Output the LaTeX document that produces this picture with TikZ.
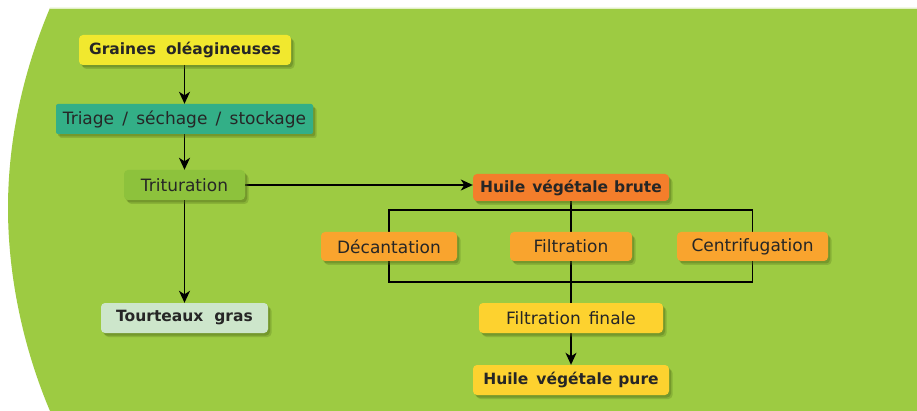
\documentclass[tikz,border=0pt]{standalone}
\usepackage{fontspec}
\setmainfont{DejaVu Sans}
\usetikzlibrary{arrows.meta,shadows,calc}
\definecolor{bggreen}{HTML}{9DCB42}
\definecolor{cyellow}{HTML}{F1E82E}
\definecolor{cteal}{HTML}{33AF87}
\definecolor{ctrit}{HTML}{8DC23C}
\definecolor{cpale}{HTML}{CDE6CB}
\definecolor{corangeD}{HTML}{F47E2B}
\definecolor{corange}{HTML}{F9A42E}
\definecolor{cyellowB}{HTML}{FDD22F}
\definecolor{ctext}{HTML}{262626}
\definecolor{cshadow}{HTML}{4E6A1A}
\pgfdeclarelayer{bglayer}
\pgfdeclarelayer{back}
\pgfsetlayers{bglayer,back,main}
\tikzset{
  box/.style={rounded corners=4pt, inner sep=0pt, text=ctext, align=center,
    font=\fontsize{17}{20}\selectfont,
    general shadow={shadow xshift=3.5pt, shadow yshift=-4pt, fill=cshadow, opacity=0.25},
    general shadow={shadow xshift=2pt, shadow yshift=-2.5pt, fill=cshadow, opacity=0.35}},
  boldbox/.style={box, font=\fontsize{15.5}{19}\selectfont\bfseries},
  conn/.style={line width=1.5pt, black},
  arr/.style={conn, -{Stealth[length=12pt,width=11pt,inset=3.5pt]}},
  brk/.style={line width=1.3pt, black}
}
\begin{document}
\begin{tikzpicture}[x=1pt,y=-1pt]
\useasboundingbox (0,0) rectangle (917,411);
\begin{pgfonlayer}{bglayer}
\fill[white] (0,0) rectangle (917,411);
\fill[bggreen] (917,8) -- (50,8) .. controls (23.3,71) and (8,139.5) .. (8,208)
  .. controls (8,276.5) and (23.3,348) .. (50,411) -- (917,411) -- cycle;
\draw[white!70!bggreen, line width=0.8pt] (50,8.2) -- (917,8.2);
\end{pgfonlayer}

\node[boldbox, fill=cyellow, minimum width=212pt, minimum height=30pt] (gr) at (185,50) {Graines\hspace{10pt}oléagineuses};
\node[box, fill=cteal, minimum width=257pt, minimum height=30pt, rounded corners=2pt] (tr) at (184.5,119) {Triage\ \,/\ \,séchage\ \,/\ \,stockage};
\node[box, fill=ctrit, minimum width=121pt, minimum height=30pt] (ti) at (184.5,185) {Trituration};
\node[boldbox, fill=cpale, minimum width=167pt, minimum height=30pt] (to) at (184.5,318) {Tourteaux\hspace{11pt}gras};
\node[boldbox, fill=corangeD, minimum width=196pt, minimum height=27pt] (hb) at (571,187.5) {Huile\hspace{7pt}végétale\hspace{6pt}brute};
\node[box, fill=corange, minimum width=136pt, minimum height=29pt] (de) at (389,246.5) {Décantation};
\node[box, fill=corange, minimum width=122pt, minimum height=29pt] (fi) at (571,246.5) {Filtration};
\node[box, fill=corange, minimum width=151pt, minimum height=29pt] (ce) at (752.5,246.5) {Centrifugation};
\node[box, fill=cyellowB, minimum width=184pt, minimum height=30pt] (ff) at (571,318) {Filtration\hspace{8pt}finale};
\node[boldbox, fill=cyellowB, minimum width=196pt, minimum height=30pt] (hp) at (571,380) {Huile\hspace{8pt}végétale\hspace{6pt}pure};

\coordinate (bt) at (571,210);
\coordinate (bb) at (571,282);

\begin{pgfonlayer}{back}
\draw[arr] (gr.south -| tr.north) -- (tr.north);
\draw[arr] (tr.south) -- (ti.north);
\draw[arr] (ti.south) -- (to.north);
\draw[arr] (ti.east) -- (ti.east -| hb.west);
\draw[brk] (hb.south) -- (ff.north);
\draw[brk] (de.north) -- (de.north |- bt) -- (ce.north |- bt) -- (ce.north);
\draw[brk] (de.south) -- (de.south |- bb) -- (ce.south |- bb) -- (ce.south);
\draw[arr] (ff.south) -- (hp.north);
\end{pgfonlayer}
\end{tikzpicture}
\end{document}
